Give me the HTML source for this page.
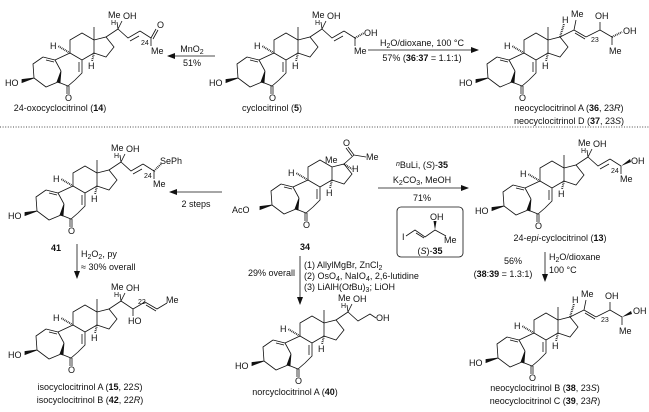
<!DOCTYPE html>
<html><head><meta charset="utf-8"><style>
html,body{margin:0;padding:0;background:#fff;}
svg{display:block;}
text{font-family:"Liberation Sans",sans-serif;font-size:9px;fill:#111;}
.s{font-size:7px;}
.m{text-anchor:middle;}
.e{text-anchor:end;}
</style></head><body>
<svg width="649" height="412" viewBox="0 0 649 412" xmlns="http://www.w3.org/2000/svg">
<defs>
<g id="core" fill="none" stroke="#111" stroke-width="0.8">
<path d="M43,57 L33,64 L34,78 L46,87 L58,82 M55,60 L43,57 M46,60 L54,62 M55,60 L61,71 M55,60 L70,53 L82,60 L82,73 L75,80 L68,86 L58,82 M79,62 L79,72 M67,86 L67,94 M69,86 L69,94 M70,53 L70,40 L82,33 L94,40 L94,53 L82,60 M94,53 L106,57 L114,47 L106,37 L94,40"/>
<polygon points="61,71 57,82 60,83" fill="#111"/>
<polygon points="34,78 22,79.5 22,82.5" fill="#111"/>
<path d="M70,53 L58,46 M94,53 L92,61" stroke-width="2" stroke-dasharray="0.8,1"/>
</g>
<g id="me13"><path d="M94,40 L94,27" stroke="#111" stroke-width="0.8"/></g>
<g id="chA" fill="none" stroke="#111" stroke-width="0.8">
<path d="M106,37 L118,29 M118,29 L117,22 M118,29 L122,21 M118,29 L128,38 L140,31 M130,41 L139,36 M140,31 L151,38"/>
</g>
<g id="chN" fill="none" stroke="#111" stroke-width="0.8">
<path d="M106,37 L120,30 M120,30 L122,20 M120,30 L132,37 M121,33 L131,39 M132,37 L146,30 L146,22 M146,30 L158,37 L158,45"/>
<path d="M106,37 L110,24" stroke-width="2" stroke-dasharray="0.8,1"/>
</g>
<marker id="ah" markerWidth="8" markerHeight="6" refX="7" refY="3" orient="auto" markerUnits="userSpaceOnUse"><path d="M0,0 L8,3 L0,6 Z" fill="#111"/></marker>
</defs>

<!-- 14 -->
<use href="#core"/><use href="#me13"/><use href="#chA"/>
<path d="M151,38 L156,29 M153,39 L158,30 M151,38 L151,46" stroke="#111" stroke-width="0.8" fill="none"/>
<text x="5" y="86">HO</text><text x="65" y="101">O</text><text x="50" y="49">H</text><text x="88" y="69">H</text>
<text x="108" y="18">Me</text><text x="111" y="25" class="s">H</text><text x="123" y="19">OH</text>
<text x="157" y="28">O</text><text x="141" y="45" class="s">24</text><text x="151" y="54">Me</text>
<text class="m" x="60" y="111">24-oxocyclocitrinol (<tspan font-weight="bold">14</tspan>)</text>

<line x1="215" y1="56" x2="168" y2="56" stroke="#111" stroke-width="0.8" marker-end="url(#ah)"/>
<text class="m" x="192" y="52">MnO<tspan class="s" dy="2">2</tspan></text><text class="m" x="192" y="66">51%</text>

<!-- 5 -->
<g transform="translate(204,0)"><use href="#core"/><use href="#me13"/><use href="#chA"/>
<path d="M151,38 L151,46" stroke="#111" stroke-width="0.8"/>
<path d="M151,38 L160,33" stroke="#111" stroke-width="2" stroke-dasharray="0.8,1"/>
<text x="5" y="86">HO</text><text x="65" y="101">O</text><text x="50" y="49">H</text><text x="88" y="69">H</text>
<text x="108" y="18">Me</text><text x="111" y="25" class="s">H</text><text x="123" y="19">OH</text>
<text x="160" y="36">OH</text><text x="150" y="54">Me</text>
</g>
<text class="m" x="272" y="111">cyclocitrinol (<tspan font-weight="bold">5</tspan>)</text>

<line x1="368" y1="50" x2="478" y2="50" stroke="#111" stroke-width="0.8" marker-end="url(#ah)"/>
<text class="m" x="422" y="46">H<tspan class="s" dy="2">2</tspan><tspan dy="-2">O/dioxane, 100 °C</tspan></text>
<text class="m" x="422" y="61">57% (<tspan font-weight="bold">36</tspan>:<tspan font-weight="bold">37</tspan> = 1.1:1)</text>

<!-- 36 -->
<g transform="translate(454,0)"><use href="#core"/><use href="#me13"/><use href="#chN"/>
<path d="M158,37 L168,32" stroke="#111" stroke-width="2" stroke-dasharray="0.8,1"/>
<text x="5" y="86">HO</text><text x="65" y="101">O</text><text x="50" y="49">H</text><text x="88" y="69">H</text>
<text x="108" y="23">H</text><text x="117" y="17">Me</text><text x="141" y="19">OH</text><text x="137" y="42" class="s">23</text>
<text x="169" y="34">OH</text><text x="155" y="54">Me</text>
</g>
<text class="m" x="569" y="111">neocyclocitrinol A (<tspan font-weight="bold">36</tspan>, 23<tspan font-style="italic">R</tspan>)</text>
<text class="m" x="569" y="124">neocyclocitrinol D (<tspan font-weight="bold">37</tspan>, 23<tspan font-style="italic">S</tspan>)</text>

<line x1="0" y1="127" x2="649" y2="127" stroke="#111" stroke-width="0.8" stroke-dasharray="1,1.6"/>

<!-- 41 -->
<g transform="translate(3,133)"><use href="#core"/><use href="#me13"/><use href="#chA"/>
<path d="M151,38 L151,46" stroke="#111" stroke-width="0.8"/>
<path d="M151,38 L158,31" stroke="#111" stroke-width="2" stroke-dasharray="0.8,1"/>
<text x="5" y="86">HO</text><text x="65" y="101">O</text><text x="50" y="49">H</text><text x="88" y="69">H</text>
<text x="108" y="18">Me</text><text x="111" y="25" class="s">H</text><text x="123" y="19">OH</text>
<text x="157" y="31">SePh</text><text x="141" y="45" class="s">24</text><text x="150" y="54">Me</text>
</g>
<text class="m" x="56" y="251" font-weight="bold">41</text>

<line x1="222" y1="192" x2="170" y2="192" stroke="#111" stroke-width="0.8" marker-end="url(#ah)"/>
<text class="m" x="196" y="207">2 steps</text>

<line x1="77" y1="244" x2="77" y2="278" stroke="#111" stroke-width="0.8" marker-end="url(#ah)"/>
<text x="81" y="257">H<tspan class="s" dy="2">2</tspan><tspan dy="-2">O</tspan><tspan class="s" dy="2">2</tspan><tspan dy="-2">, py</tspan></text>
<text x="81" y="270">≈ 30% overall</text>

<!-- 15 -->
<g transform="translate(3,272)"><use href="#core"/><use href="#me13"/>
<path d="M106,37 L118,29 L117,22 M118,29 L122,21 M118,29 L130,37 L130,44 M130,37 L142,30 L154,37 L164,31 M143,33 L153,39" stroke="#111" stroke-width="0.8" fill="none"/>
<text x="5" y="86">HO</text><text x="65" y="101">O</text><text x="50" y="49">H</text><text x="88" y="69">H</text>
<text x="108" y="18">Me</text><text x="111" y="25" class="s">H</text><text x="123" y="19">OH</text>
<text x="135" y="32" class="s">22</text><text x="125" y="52">HO</text><text x="163" y="31">Me</text>
</g>
<text class="m" x="90" y="390">isocyclocitrinol A (<tspan font-weight="bold">15</tspan>, 22<tspan font-style="italic">S</tspan>)</text>
<text class="m" x="90" y="403">isocyclocitrinol B (<tspan font-weight="bold">42</tspan>, 22<tspan font-style="italic">R</tspan>)</text>

<!-- 34 -->
<g transform="translate(238,127)"><use href="#core"/>
<path d="M106,37 L116,28 L128,30 M116,28 L110,20 M114,29 L108,21" stroke="#111" stroke-width="0.8" fill="none"/>
<path d="M106,37 L114,42" stroke="#111" stroke-width="2" stroke-dasharray="0.8,1"/>
<text x="-6" y="86">AcO</text><text x="65" y="101">O</text><text x="50" y="49">H</text><text x="88" y="69">H</text>
<text x="87" y="36">Me</text><text x="105" y="19">O</text><text x="128" y="33">Me</text><text x="114" y="45">H</text>
</g>
<text class="m" x="305" y="250" font-weight="bold">34</text>

<line x1="300" y1="256" x2="300" y2="304" stroke="#111" stroke-width="0.8" marker-end="url(#ah)"/>
<text class="e" x="295" y="276">29% overall</text>
<text x="304" y="268">(1) AllylMgBr, ZnCl<tspan class="s" dy="2">2</tspan></text>
<text x="304" y="279">(2) OsO<tspan class="s" dy="2">4</tspan><tspan dy="-2">, NaIO</tspan><tspan class="s" dy="2">4</tspan><tspan dy="-2">, 2,6-lutidine</tspan></text>
<text x="304" y="290">(3) LiAlH(O<tspan font-style="italic">t</tspan>Bu)<tspan class="s" dy="2">3</tspan><tspan dy="-2">; LiOH</tspan></text>

<!-- 40 -->
<g transform="translate(230,283)"><use href="#core"/><use href="#me13"/>
<path d="M106,37 L118,29 L117,22 M118,29 L122,21 M118,29 L128,38 L140,31 L146,35" stroke="#111" stroke-width="0.8" fill="none"/>
<text x="5" y="86">HO</text><text x="65" y="101">O</text><text x="50" y="49">H</text><text x="88" y="69">H</text>
<text x="108" y="18">Me</text><text x="111" y="25" class="s">H</text><text x="123" y="19">OH</text>
<text x="146" y="38">OH</text>
</g>
<text class="m" x="295" y="395">norcyclocitrinol A (<tspan font-weight="bold">40</tspan>)</text>

<line x1="378" y1="188" x2="468" y2="188" stroke="#111" stroke-width="0.8" marker-end="url(#ah)"/>
<text class="m" x="422" y="168"><tspan font-style="italic" class="s" dy="-2">n</tspan><tspan dy="2">BuLi, (</tspan><tspan font-style="italic">S</tspan>)-<tspan font-weight="bold">35</tspan></text>
<text class="m" x="422" y="183">K<tspan class="s" dy="2">2</tspan><tspan dy="-2">CO</tspan><tspan class="s" dy="2">3</tspan><tspan dy="-2">, MeOH</tspan></text>
<text class="m" x="422" y="201">71%</text>
<rect x="397" y="207" width="66" height="50" rx="4" fill="none" stroke="#111" stroke-width="0.8"/>
<path d="M406,236 L415,230 L425,237 L435,230 L446,236 M416,233 L424,238" stroke="#111" stroke-width="0.8" fill="none"/>
<polygon points="435,230 433.5,221 436.5,221" fill="#111"/>
<text x="402" y="240">I</text><text x="430" y="220">OH</text><text x="444" y="243">Me</text>
<text class="m" x="430" y="254">(<tspan font-style="italic">S</tspan>)-<tspan font-weight="bold">35</tspan></text>

<!-- 13 -->
<g transform="translate(470,128)"><use href="#core"/><use href="#me13"/><use href="#chA"/>
<path d="M151,38 L151,46" stroke="#111" stroke-width="0.8"/>
<polygon points="151,38 160,31 161,34" fill="#111"/>
<text x="5" y="86">HO</text><text x="65" y="101">O</text><text x="50" y="49">H</text><text x="88" y="69">H</text>
<text x="108" y="18">Me</text><text x="111" y="25" class="s">H</text><text x="123" y="19">OH</text>
<text x="161" y="36">OH</text><text x="141" y="45" class="s">24</text><text x="150" y="54">Me</text>
</g>
<text class="m" x="560" y="241">24-<tspan font-style="italic">epi</tspan>-cyclocitrinol (<tspan font-weight="bold">13</tspan>)</text>

<line x1="545" y1="252" x2="545" y2="281" stroke="#111" stroke-width="0.8" marker-end="url(#ah)"/>
<text x="549" y="260">H<tspan class="s" dy="2">2</tspan><tspan dy="-2">O/dioxane</tspan></text>
<text x="549" y="273">100 °C</text>
<text class="m" x="513" y="264">56%</text>
<text class="m" x="503" y="277">(<tspan font-weight="bold">38</tspan>:<tspan font-weight="bold">39</tspan> = 1.3:1)</text>

<!-- 38 -->
<g transform="translate(464,280)"><use href="#core"/><use href="#me13"/><use href="#chN"/>
<polygon points="158,37 167,31 168,34" fill="#111"/>
<text x="5" y="86">HO</text><text x="65" y="101">O</text><text x="50" y="49">H</text><text x="88" y="69">H</text>
<text x="108" y="23">H</text><text x="117" y="17">Me</text><text x="141" y="19">OH</text><text x="137" y="42" class="s">23</text>
<text x="169" y="34">OH</text><text x="155" y="54">Me</text>
</g>
<text class="m" x="545" y="391">neocyclocitrinol B (<tspan font-weight="bold">38</tspan>, 23<tspan font-style="italic">S</tspan>)</text>
<text class="m" x="545" y="404">neocyclocitrinol C (<tspan font-weight="bold">39</tspan>, 23<tspan font-style="italic">R</tspan>)</text>
</svg>
</body></html>
